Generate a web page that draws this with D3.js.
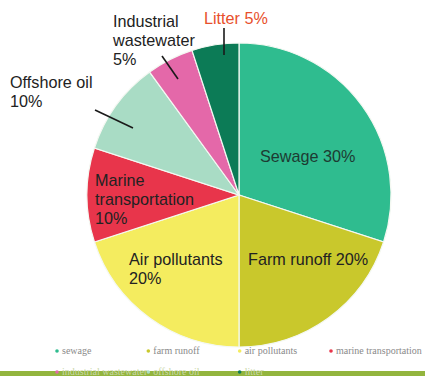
<!DOCTYPE html>
<html>
<head>
<meta charset="utf-8">
<script src="https://cdn.jsdelivr.net/npm/d3@7"></script>
<style>
  body { margin: 0; background: #fff; }
  svg { display: block; }
</style>
</head>
<body>
<svg width="425" height="376"></svg>
<script>
const categories = ['Sewage', 'Farm runoff', 'Air pollutants', 'Marine transportation', 'Offshore oil', 'Industrial wastewater', 'Litter'];
const values = [30, 20, 20, 10, 10, 5, 5];
const colors = ['#2fbc8f', '#c9c82c', '#f4ec5f', '#e8354b', '#a9dcc5', '#e468a9', '#0c7b56'];
const legendNames = ['sewage', 'farm runoff', 'air pollutants', 'marine transportation', 'industrial wastewater', 'offshore oil', 'litter'];
const legendColors = ['#2fbc8f', '#c9c82c', '#f4ec5f', '#e8354b', '#e468a9', '#a9dcc5', '#0c7b56'];

// label layout (relative to pie centre)
const labelLayout = [
    {lines: ['Sewage 30%'], x: 21, y: -33, color: '#1d3b32'},
    {lines: ['Farm runoff 20%'], x: 9, y: 70, color: '#222'},
    {lines: ['Air pollutants', '20%'], x: -110, y: 70, color: '#222'},
    {lines: ['Marine', 'transportation', '10%'], x: -144, y: -9, color: '#222'},
    {lines: ['Offshore oil', '10%'], x: -229, y: -107, color: '#222', leader: [-144, -85, -106, -67]},
    {lines: ['Industrial', 'wastewater', '5%'], x: -126, y: -168, color: '#222', leader: [-77, -139, -61, -116]},
    {lines: ['Litter 5%'], x: -35, y: -171, color: '#e8502c', leader: [-15, -167, -15, -140]}
];

const svg = d3.select('svg');
const cx = 239;
const cy = 195;
const radius = 152;

const pie = d3.pie().sort(null).value(function (d) {
    return d;
});
const arc = d3.arc().innerRadius(0).outerRadius(radius);

// bottom band
svg.append('rect')
    .attr('x', 0).attr('y', 371)
    .attr('width', 425).attr('height', 5)
    .attr('fill', '#93b53e');

const g = svg.append('g')
    .attr('transform', 'translate(' + cx + ',' + cy + ')');

g.selectAll('path')
    .data(pie(values))
    .enter().append('path')
    .attr('d', arc)
    .attr('fill', function (d, i) {
        return colors[i];
    })
    .attr('stroke', '#f4f8f2')
    .attr('stroke-width', 1.2);

// labels
labelLayout.forEach(function (l) {
    if (l.leader) {
        g.append('line')
            .attr('x1', l.leader[0]).attr('y1', l.leader[1])
            .attr('x2', l.leader[2]).attr('y2', l.leader[3])
            .attr('stroke', '#1a1a1a')
            .attr('stroke-width', 1.6);
    }
    const t = g.append('text')
        .attr('x', l.x)
        .attr('y', l.y)
        .attr('fill', l.color)
        .style('font-family', '"Liberation Sans", Arial, sans-serif')
        .style('font-size', '16.2px');
    l.lines.forEach(function (line, i) {
        t.append('tspan')
            .attr('x', l.x)
            .attr('dy', i === 0 ? 0 : 19)
            .text(line);
    });
});

// legend
const legendX = d3.scalePoint().domain(d3.range(4)).range([57, 331]);
const legend = svg.append('g');
legendNames.forEach(function (name, i) {
    const col = i % 4;
    const row = Math.floor(i / 4);
    const x = legendX(col);
    const y = 354 + row * 21;
    legend.append('circle')
        .attr('cx', x).attr('cy', y - 3)
        .attr('r', 1.8)
        .attr('fill', legendColors[i]);
    legend.append('text')
        .attr('x', x + 5)
        .attr('y', y)
        .attr('fill', row === 0 ? '#8a8a8a' : '#c9d6a8')
        .style('font-family', '"Liberation Serif", "DejaVu Serif", serif')
        .style('font-size', '10px')
        .text(name);
});
</script>
</body>
</html>
